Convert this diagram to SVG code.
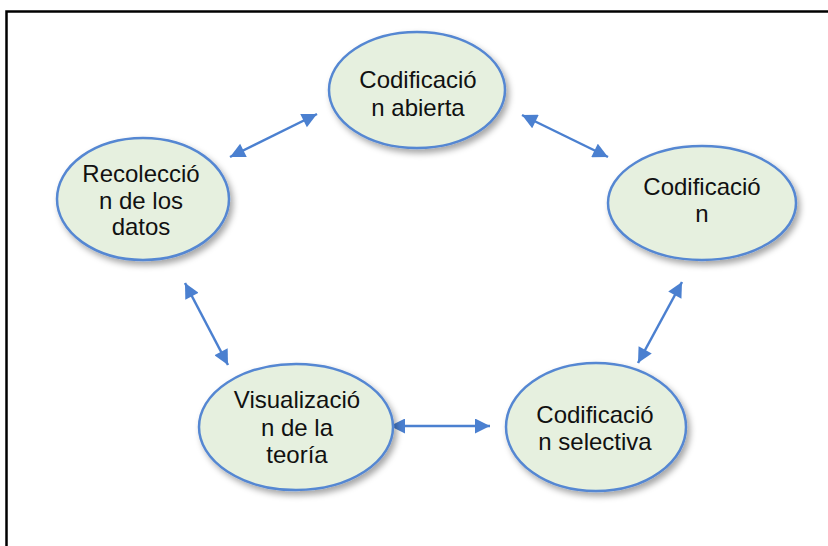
<svg xmlns="http://www.w3.org/2000/svg" width="828" height="546" viewBox="0 0 828 546">
<defs>
<style>
.node ellipse{fill:#e6f0df;stroke:#5587d2;stroke-width:2.5;filter:url(#sh)}
.node text{font-family:"Liberation Sans",Arial,sans-serif;font-size:24px;fill:#111;text-anchor:middle}
.conn line{stroke:#4b80d0;stroke-width:2.5;marker-start:url(#ah);marker-end:url(#ah)}
</style>
<filter id="sh" x="-20%" y="-20%" width="150%" height="150%">
<feDropShadow dx="3" dy="4" stdDeviation="3" flood-color="#000" flood-opacity="0.35"/>
</filter>
<marker id="ah" viewBox="0 0 10 10" refX="10" refY="5" markerWidth="7" markerHeight="6" orient="auto-start-reverse" markerUnits="strokeWidth">
<path d="M0,0 L10,5 L0,10 z" fill="#4b80d0"/>
</marker>
</defs>
<rect x="0" y="0" width="828" height="546" fill="#fff"/>
<path d="M6.5,546 V11.5 H828" fill="none" stroke="#000" stroke-width="2.5"/>
<g class="conn">
<line x1="230" y1="157" x2="317" y2="114"/>
<line x1="522" y1="115" x2="608" y2="157"/>
<line x1="185" y1="283" x2="228" y2="365"/>
<line x1="682" y1="282" x2="638" y2="363"/>
<line x1="390" y1="426" x2="490" y2="426"/>
</g>
<g id="n-abierta" class="node">
<ellipse cx="417" cy="90" rx="88" ry="58"/>
<text x="418" y="88">Codificació</text>
<text x="418" y="116">n abierta</text>
</g>
<g id="n-recoleccion" class="node">
<ellipse cx="143" cy="199" rx="86" ry="61"/>
<text x="141" y="182">Recolecció</text>
<text x="141" y="209">n de los</text>
<text x="141" y="235">datos</text>
</g>
<g id="n-codificacion" class="node">
<ellipse cx="702" cy="203" rx="94" ry="57"/>
<text x="702" y="195">Codificació</text>
<text x="702" y="222">n</text>
</g>
<g id="n-visualizacion" class="node">
<ellipse cx="296" cy="427" rx="97" ry="63"/>
<text x="297" y="408">Visualizació</text>
<text x="297" y="436">n de la</text>
<text x="297" y="463">teoría</text>
</g>
<g id="n-selectiva" class="node">
<ellipse cx="596" cy="427" rx="90" ry="64"/>
<text x="595" y="423">Codificació</text>
<text x="595" y="450">n selectiva</text>
</g>
</svg>
